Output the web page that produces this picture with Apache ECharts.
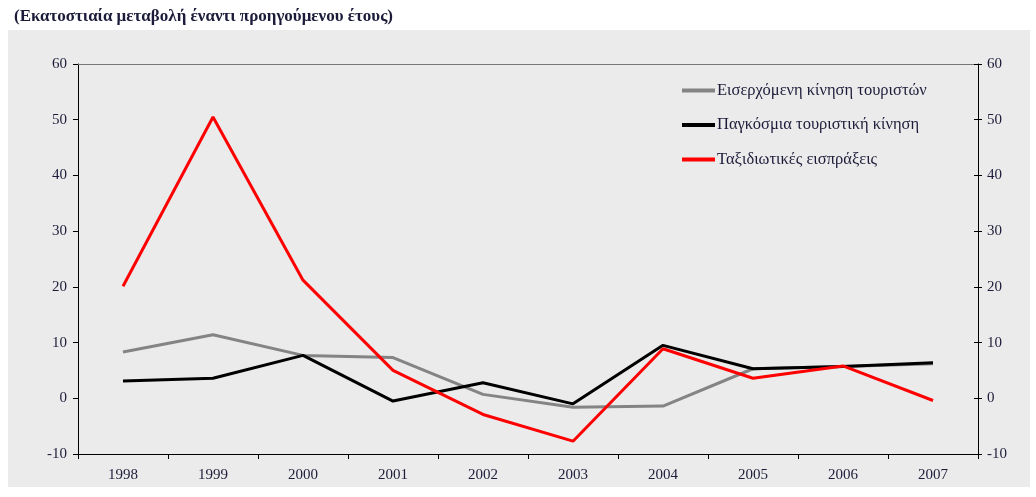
<!DOCTYPE html>
<html>
<head>
<meta charset="utf-8">
<script src="https://cdn.jsdelivr.net/npm/echarts@6/dist/echarts.min.js"></script>
<style>
  html, body { margin: 0; padding: 0; background: #fff; }
  #chart { width: 1036px; height: 497px; }
</style>
</head>
<body>
<div id="chart"></div>
<script>
// years on the category axis
const years = ["1998", "1999", "2000", "2001", "2002", "2003", "2004", "2005", "2006", "2007"];
// Εισερχόμενη κίνηση τουριστών
const incoming = [8.3, 11.4, 7.7, 7.3, 0.7, -1.6, -1.4, 5.3, 5.7, 6.2];
// Παγκόσμια τουριστική κίνηση
const world = [3.1, 3.6, 7.7, -0.5, 2.8, -1.0, 9.5, 5.3, 5.7, 6.4];
// Ταξιδιωτικές εισπράξεις
const receipts = [20.1, 50.5, 21.2, 5.0, -2.9, -7.7, 8.9, 3.6, 5.8, -0.4];

const seriesNames = ["Εισερχόμενη κίνηση τουριστών", "Παγκόσμια τουριστική κίνηση", "Ταξιδιωτικές εισπράξεις"];
const seriesColors = ["#848484", "#000000", "#ff0000"];

const font = "'Liberation Serif', 'DejaVu Serif', serif";
const txt = { fontFamily: font, fontSize: 15, color: "#1c1c3a" };

var chart = echarts.init(document.getElementById("chart"));

const yBase = {
  type: "value",
  min: -10,
  max: 60,
  interval: 10,
  splitLine: { show: false },
  axisLine: { show: true, lineStyle: { color: "#000", width: 1 } },
};

chart.setOption({
  backgroundColor: "#fff",
  animation: false,
  graphic: [
    {
      type: "rect",
      left: 8, top: 30,
      shape: { width: 1022, height: 457 },
      style: { fill: "#ebebeb" },
      z: -10,
    },
    {
      type: "text",
      left: 14, top: 8,
      style: { text: "(Εκατοστιαία μεταβολή έναντι προηγούμενου έτους)", font: "bold 17px " + font, fill: "#1c1c3a" },
    },
  ],
  grid: { left: 78, right: 58, top: 64, bottom: 43 },
  legend: {
    orient: "vertical",
    left: 682,
    top: 82,
    padding: 0,
    icon: "rect",
    itemWidth: 33,
    itemHeight: 4,
    itemGap: 17.5,
    textStyle: Object.assign({}, txt, { fontSize: 16.5, padding: [0, 0, 0, -3] }),
    data: seriesNames,
  },
  xAxis: [
    {
      type: "category",
      data: years,
      boundaryGap: true,
      axisLine: { onZero: false, lineStyle: { color: "#000", width: 1 } },
      axisTick: { show: true, length: 5, lineStyle: { color: "#000" } },
      axisLabel: Object.assign({}, txt, { margin: 14 }),
    },
    {
      type: "category",
      data: years,
      position: "top",
      axisLine: { show: true, onZero: false, lineStyle: { color: "#777", width: 1 } },
      axisTick: { show: false },
      axisLabel: { show: false },
    },
  ],
  yAxis: [
    Object.assign({}, yBase, {
      position: "left",
      axisTick: { show: true, length: 5, lineStyle: { color: "#000" } },
      axisLabel: Object.assign({}, txt, { margin: 11 }),
    }),
    Object.assign({}, yBase, {
      position: "right",
      axisTick: { show: true, length: 4, lineStyle: { color: "#000" } },
      axisLabel: Object.assign({}, txt, { margin: 9 }),
    }),
    Object.assign({}, yBase, {
      position: "right",
      axisLine: { show: false },
      axisTick: { show: true, inside: true, length: 4, lineStyle: { color: "#000" } },
      axisLabel: { show: false },
    }),
  ],
  series: [incoming, world, receipts].map((d, i) => ({
    name: seriesNames[i],
    type: "line",
    data: d,
    showSymbol: false,
    symbol: "none",
    itemStyle: { color: seriesColors[i] },
    lineStyle: { color: seriesColors[i], width: 3 },
    z: 2 + i,
  })),
});
</script>
</body>
</html>
